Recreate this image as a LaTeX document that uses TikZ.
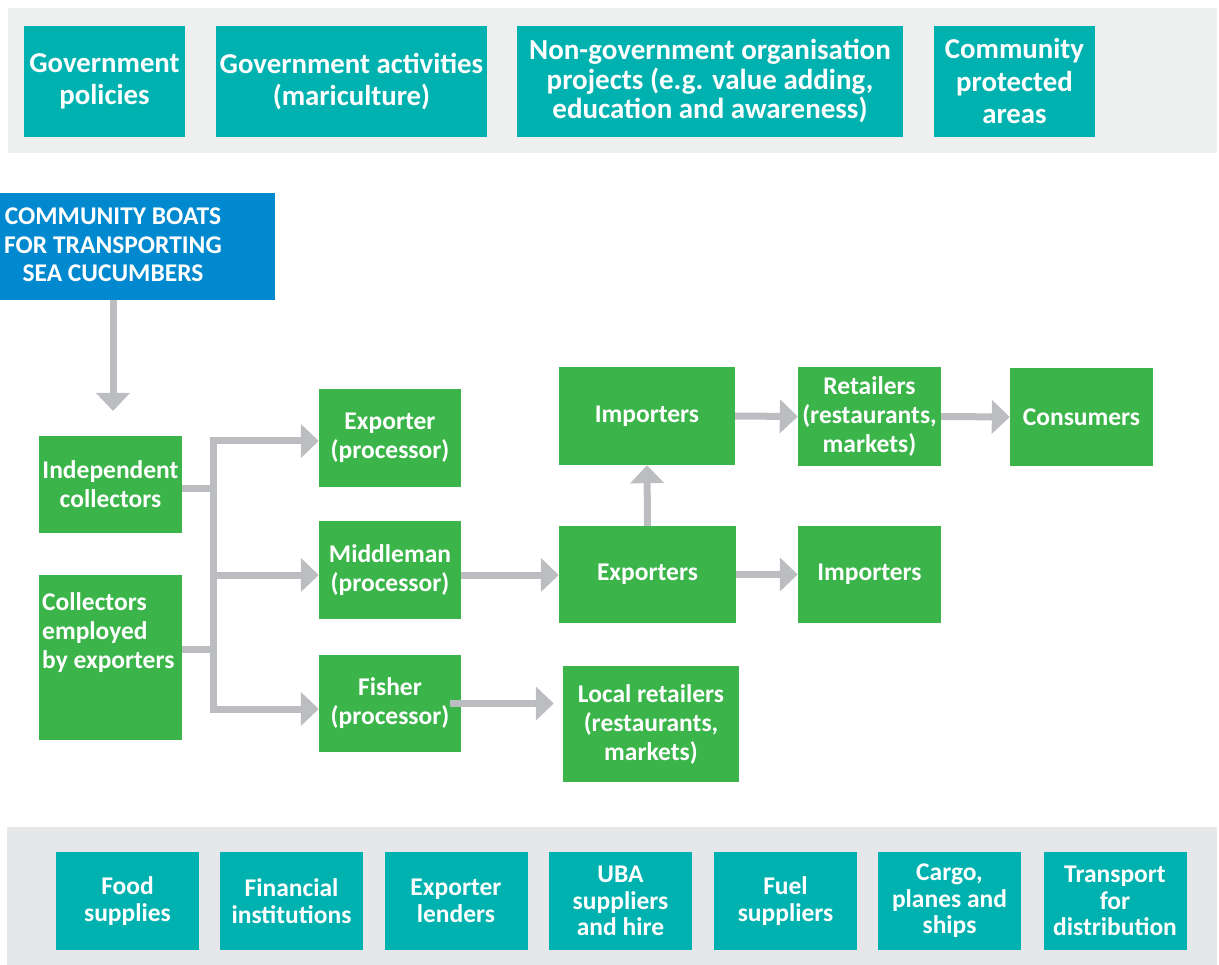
\documentclass[tikz,border=0pt]{standalone}
\usepackage{fontspec}
\setmainfont{Carlito}
\usetikzlibrary{arrows.meta}
\definecolor{teal}{HTML}{00B2AF}
\definecolor{leaf}{HTML}{3BB54A}
\definecolor{sea}{HTML}{0089CF}
\definecolor{flowgrey}{HTML}{BCBDC0}
\definecolor{bandtop}{HTML}{EEF0F0}
\definecolor{bandbot}{HTML}{E6E7E9}

\begin{document}
\begin{tikzpicture}[x=1pt,y=-1pt,
  box/.style={inner sep=0pt,text=white,align=center,font=\bfseries\fontsize{25.5}{29}\selectfont},
  tealbox/.style={box,fill=teal,minimum height=111pt,font=\bfseries\fontsize{28.8}{32.5}\selectfont},
  greenbox/.style={box,fill=leaf},
  supbox/.style={box,fill=teal,minimum width=143pt,minimum height=98pt,font=\bfseries\fontsize{25.5}{26.5}\selectfont},
  link/.style={draw=flowgrey,line width=7pt},
  flow/.style={link,-{Triangle[length=18pt,width=33pt]}}]
\useasboundingbox (0,0) rectangle (1219,965);
% grey bands top and bottom
\fill[bandtop] (8,8) rectangle (1217,153);
\fill[bandbot] (7,827) rectangle (1217,965);

% support from above
\node[tealbox,minimum width=161pt] (gov) at (104.5,81.5) {Government\\policies};
\node[tealbox,minimum width=271pt] (act) at (351.5,81.5) {Government activities\\(mariculture)};
\node[tealbox,minimum width=386pt,font=\bfseries\fontsize{29}{29.5}\selectfont] (ngo) at (710,81.5) {Non-government organisation\\projects (e.g. value adding,\\education and awareness)};
\node[tealbox,minimum width=161pt] (cpa) at (1014.5,81.5) {Community\\protected\\areas};

% boats
\node[box,fill=sea,minimum width=275pt,minimum height=107pt] (boat) at (137.5,246.5) {};
\node[box,font=\bfseries\fontsize{25.5}{28.5}\selectfont] (boat-text) at (113,245) {COMMUNITY BOATS\\FOR TRANSPORTING\\SEA CUCUMBERS};
\coordinate (boat-tip) at (113,411);

% collectors
\node[greenbox,minimum width=143pt,minimum height=97pt] (ind) at (110.5,484.5) {Independent\\collectors};
\node[greenbox,minimum width=143pt,minimum height=165pt] (emp) at (110.5,657.5) {};
\node[box,align=left,anchor=west] (emp-text) at (42,633) {Collectors\\employed\\by exporters};

% processors
\node[greenbox,minimum width=142pt,minimum height=98pt] (expo) at (390,438) {Exporter\\(processor)};
\node[greenbox,minimum width=142pt,minimum height=98pt] (midd) at (390,570) {Middleman\\(processor)};
\node[greenbox,minimum width=142pt,minimum height=97pt] (fish) at (390,703.5) {Fisher\\(processor)};

% trade
\node[greenbox,minimum width=176pt,minimum height=98pt] (impt) at (647,416) {Importers};
\node[greenbox,minimum width=177pt,minimum height=97pt] (expts) at (647.5,574.5) {Exporters};
\node[greenbox,minimum width=143pt,minimum height=99pt] (ret) at (869.5,416.5) {Retailers\\(restaurants,\\markets)};
\node[greenbox,minimum width=143pt,minimum height=98pt] (cons) at (1081.5,417) {Consumers};
\node[greenbox,minimum width=143pt,minimum height=97pt] (impr) at (869.5,574.5) {Importers};
\node[greenbox,minimum width=176pt,minimum height=116pt] (locr) at (651,724) {Local retailers\\(restaurants,\\markets)};

% support from below
\foreach \n/\x/\t in {food/127.5/{Food\\supplies},fin/291.5/{Financial\\institutions},
  lend/456/{Exporter\\lenders},uba/620.5/{UBA\\suppliers\\and hire},fuel/785.5/{Fuel\\suppliers},
  cargo/949.5/{Cargo,\\planes and\\ships},trans/1115/{Transport\\for\\distribution}}{
  \node[supbox] (sup-\n) at (\x,901) {\t};
}

% connectors
\coordinate (j1) at (213,489);
\coordinate (j2) at (213,649);
\coordinate (bus-top) at (213,441);
\coordinate (bus-mid) at (213,575);
\coordinate (bus-bot) at (213,709);
\draw[flow] (boat.south -| boat-tip) -- (boat-tip);
\draw[link] (ind.east |- j1) -- (j1);
\draw[link] (emp.east |- j2) -- (j2);
\draw[flow] (bus-mid) -- (bus-top) -- (bus-top -| expo.west);
\draw[flow] (bus-mid) -- (bus-bot) -- (bus-bot -| fish.west);
\draw[flow] (bus-mid) -- (bus-mid -| midd.west);
\draw[flow] (midd.east |- bus-mid) -- (expts.west |- bus-mid);
\draw[flow] (expts.north) -- (impt.south);
\draw[flow] (impt.east) -- (ret.west);
\draw[flow] (ret.east) -- (cons.west);
\draw[flow] (expts.east) -- (impr.west);
\draw[flow,shorten >=9pt] ([xshift=-11pt]fish.east) -- (fish.east -| locr.west);
\end{tikzpicture}
\end{document}
